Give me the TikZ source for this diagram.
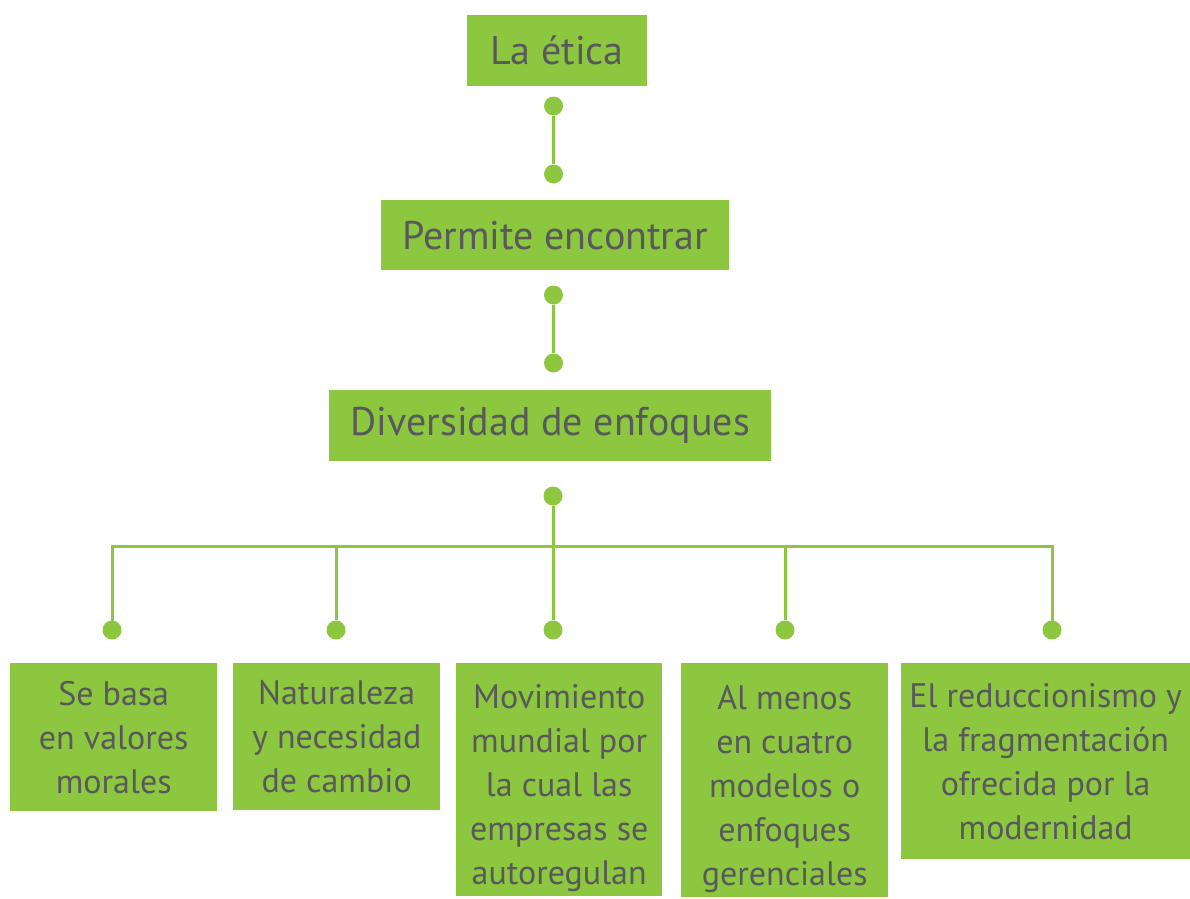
\documentclass[tikz,border=0pt]{standalone}
\usepackage{fontspec}
\setmainfont{PT Sans}
\definecolor{lime}{HTML}{8DC63F}
\definecolor{ink}{HTML}{58595B}
\begin{document}
\begin{tikzpicture}[x=1pt,y=-1pt,
  box/.style={fill=lime, inner sep=0pt, text=ink, anchor=north west, align=center},
  topbox/.style={box, font=\fontsize{40}{48}\selectfont},
  lowbox/.style={box, font=\fontsize{34}{44}\selectfont},
  dot/.style={circle, fill=lime, inner sep=0pt, minimum size=19pt},
  conn/.style={draw=lime, line width=3pt}]
\useasboundingbox (0,0) rectangle (1190,898);
% top chain
\node[topbox, minimum width=180pt, minimum height=71pt] (etica) at (467,15) {La ética};
\node[topbox, minimum width=348pt, minimum height=70pt] (permite) at (381,200) {Permite encontrar};
\node[topbox, minimum width=442pt, minimum height=71pt] (diversidad) at (329,390) {Diversidad de enfoques};
% bottom boxes
\node[lowbox, minimum width=207pt, minimum height=148pt] (b1) at (10,663) {Se basa\\en valores\\morales};
\node[lowbox, minimum width=207pt, minimum height=147pt] (b2) at (233,663) {Naturaleza\\y necesidad\\de cambio};
\node[lowbox, minimum width=206pt, minimum height=233pt] (b3) at (456,663) {\mbox{}\\[-3pt]Movimiento\\mundial por\\la cual las\\empresas se\\autoregulan};
\node[lowbox, minimum width=207pt, minimum height=234pt] (b4) at (681,663) {\mbox{}\\[-3pt]Al menos\\en cuatro\\modelos o\\enfoques\\gerenciales};
\node[lowbox, minimum width=289pt, minimum height=196pt] (b5) at (901,663) {El reduccionismo y\\la fragmentación\\ofrecida por la\\modernidad};
% dots
\node[dot] (d1) at (553.5,106) {};
\node[dot] (d2) at (553.5,174) {};
\node[dot] (d3) at (553.5,295) {};
\node[dot] (d4) at (553.5,363) {};
\node[dot] (d5) at (553,496) {};
\node[dot] (e1) at (112,630) {};
\node[dot] (e2) at (336,630) {};
\node[dot] (e3) at (553,630) {};
\node[dot] (e4) at (785,630) {};
\node[dot] (e5) at (1052,630) {};
\coordinate (hub) at (553,546);
% connectors
\draw[conn] (d1) -- (d2);
\draw[conn] (d3) -- (d4);
\draw[conn] (d5) -- (e3);
\draw[conn] (e1.center) |- (hub) -| (e5.center);
\draw[conn] (hub -| e2) -- (e2);
\draw[conn] (hub -| e4) -- (e4);
\end{tikzpicture}
\end{document}
